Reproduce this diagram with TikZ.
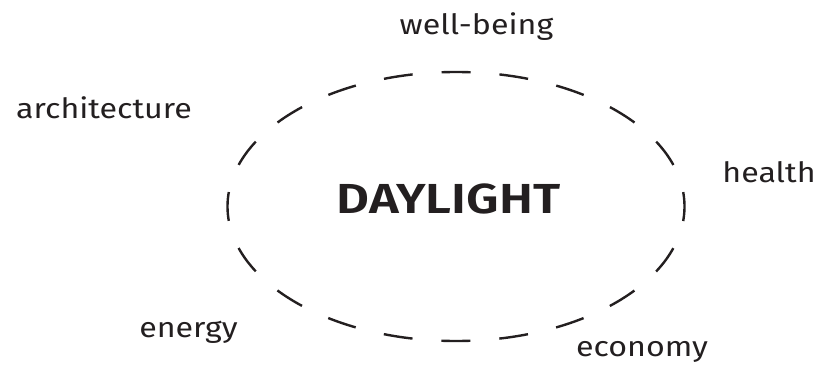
\documentclass[tikz,border=0pt]{standalone}
\usepackage{fontspec}
\setmainfont{Fira Sans}
\newfontfamily\lblfont[FakeStretch=1.15]{Fira Sans}
\newfontfamily\titlefont[FakeStretch=1.21,UprightFont=* SemiBold,BoldFont=* SemiBold]{Fira Sans}
\definecolor{ink}{HTML}{231F20}
\begin{document}
\begin{tikzpicture}[x=1pt,y=-1pt,
  lbl/.style={inner sep=0pt,anchor=base,text=ink,font=\lblfont\fontsize{28}{30}\selectfont},
  title/.style={inner sep=0pt,anchor=base,text=ink,font=\titlefont\fontsize{42}{44}\selectfont},
  ring/.style={draw=ink,line width=2.4pt,dash pattern=on 29pt off 28.98pt,dash phase=14.5pt}]
\useasboundingbox (0,0) rectangle (819,370);
\draw[ring] (456,206.5) ellipse [x radius=228.5pt, y radius=134.5pt];
\node[title] (day) at (448.5,213) {DAYLIGHT};
\node[lbl] (wb) at (476.5,34) {well-being};
\node[lbl] (arch) at (104,118) {architecture};
\node[lbl] (health) at (769,182) {health};
\node[lbl] (energy) at (188.5,337) {energy};
\node[lbl] (econ) at (642,356) {economy};
\end{tikzpicture}
\end{document}
